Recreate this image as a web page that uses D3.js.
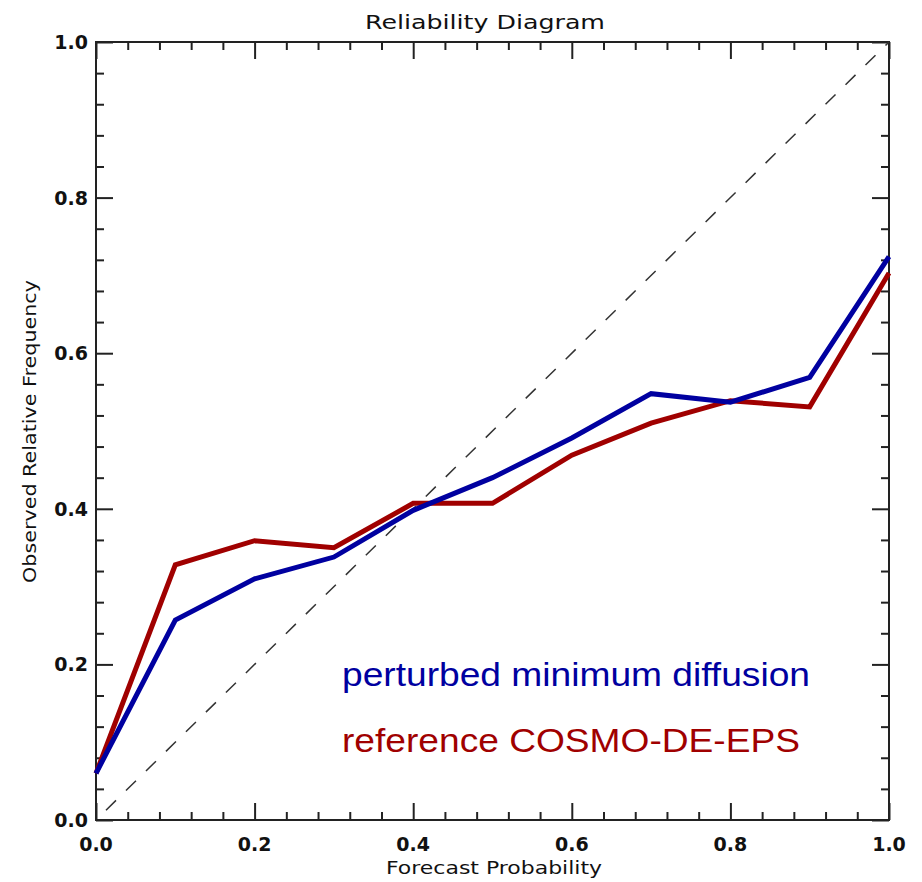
<!DOCTYPE html>
<html>
<head>
<meta charset="utf-8">
<script src="https://cdn.jsdelivr.net/npm/d3@7"></script>
<style>
  body { margin: 0; background: #fff; }
  svg { display: block; }
</style>
</head>
<body>
<script>
const forecastProb = [0.0, 0.1, 0.2, 0.3, 0.4, 0.5, 0.6, 0.7, 0.8, 0.9, 1.0];
const perturbedMinDiffusion = [0.06, 0.257, 0.31, 0.338, 0.398, 0.44, 0.491, 0.548, 0.537, 0.569, 0.724];
const referenceCosmo = [0.06, 0.328, 0.359, 0.35, 0.407, 0.407, 0.469, 0.51, 0.539, 0.531, 0.703];
const majorTicks = [0.0, 0.2, 0.4, 0.6, 0.8, 1.0];
const tickLabels = ["0.0", "0.2", "0.4", "0.6", "0.8", "1.0"];
const seriesNames = ["perturbed minimum diffusion", "reference COSMO-DE-EPS"];
const seriesColors = ["#0000a0", "#a00000"];

const W = 922, H = 882;
const plotLeft = 96, plotRight = 889, plotTop = 42, plotBottom = 820;

const svg = d3.select("body").append("svg").attr("width", W).attr("height", H);

const x = d3.scaleLinear().domain([0, 1]).range([plotLeft, plotRight]);
const y = d3.scaleLinear().domain([0, 1]).range([plotBottom, plotTop]);

const minorTicks = d3.range(0, 1.0001, 0.04).map(v => +v.toFixed(2));
const isMajor = v => majorTicks.some(m => Math.abs(m - v) < 1e-6);

const axisColor = "#222";
const tickFont = "'DejaVu Sans', sans-serif";

// frame
svg.append("rect").attr("x", plotLeft).attr("y", plotTop)
  .attr("width", plotRight - plotLeft).attr("height", plotBottom - plotTop)
  .attr("fill", "none").attr("stroke", axisColor).attr("stroke-width", 2);

function drawAxis(gen, transform) {
  const g = svg.append("g").attr("transform", transform).call(gen);
  g.select(".domain").remove();
  g.selectAll(".tick line").attr("stroke", axisColor).attr("stroke-width", 2);
  return g;
}
const majorLen = 17, minorLen = 8;
const xb = drawAxis(d3.axisTop(x).tickValues(minorTicks).tickSize(0).tickFormat(""), `translate(0,${plotBottom})`);
xb.selectAll(".tick line").attr("y2", d => isMajor(d) ? -majorLen : -minorLen);
const xt = drawAxis(d3.axisBottom(x).tickValues(minorTicks).tickSize(0).tickFormat(""), `translate(0,${plotTop})`);
xt.selectAll(".tick line").attr("y2", d => isMajor(d) ? majorLen : minorLen);
const yl = drawAxis(d3.axisRight(y).tickValues(minorTicks).tickSize(0).tickFormat(""), `translate(${plotLeft},0)`);
yl.selectAll(".tick line").attr("x2", d => isMajor(d) ? majorLen : minorLen);
const yr = drawAxis(d3.axisLeft(y).tickValues(minorTicks).tickSize(0).tickFormat(""), `translate(${plotRight},0)`);
yr.selectAll(".tick line").attr("x2", d => isMajor(d) ? -majorLen : -minorLen);

// tick labels
svg.append("g").selectAll("text").data(majorTicks).join("text")
  .attr("x", d => x(d)).attr("y", 851)
  .attr("text-anchor", "middle")
  .attr("font-family", tickFont).attr("font-weight", "bold").attr("font-size", 19)
  .attr("fill", "#111")
  .text((d, i) => tickLabels[i]);
svg.append("g").selectAll("text").data(majorTicks).join("text")
  .attr("x", 88).attr("y", d => y(d) + 7)
  .attr("text-anchor", "end")
  .attr("font-family", tickFont).attr("font-weight", "bold").attr("font-size", 19)
  .attr("fill", "#111")
  .text((d, i) => tickLabels[i]);

// diagonal
svg.append("line")
  .attr("x1", x(0)).attr("y1", y(0)).attr("x2", x(1)).attr("y2", y(1))
  .attr("stroke", "#333").attr("stroke-width", 1.5)
  .attr("stroke-dasharray", "14,14").attr("stroke-dashoffset", 14);

// series
const line = d3.line().x(d => x(d[0])).y(d => y(d[1]));
[[referenceCosmo, seriesColors[1]], [perturbedMinDiffusion, seriesColors[0]]].forEach(([vals, color]) => {
  svg.append("path")
    .datum(forecastProb.map((f, k) => [f, vals[k]]))
    .attr("d", line)
    .attr("fill", "none").attr("stroke", color)
    .attr("stroke-width", 5).attr("stroke-linejoin", "miter");
});

// title & axis labels
svg.append("text").attr("x", 365).attr("y", 29)
  .attr("font-family", tickFont).attr("font-size", 20).attr("fill", "#111")
  .attr("textLength", 240).attr("lengthAdjust", "spacingAndGlyphs")
  .text("Reliability Diagram");
svg.append("text").attr("x", 386).attr("y", 874)
  .attr("font-family", tickFont).attr("font-size", 17).attr("fill", "#111")
  .attr("textLength", 216).attr("lengthAdjust", "spacingAndGlyphs")
  .text("Forecast Probability");
svg.append("text").attr("transform", "translate(36,583) rotate(-90)")
  .attr("font-family", tickFont).attr("font-size", 17).attr("fill", "#111")
  .attr("textLength", 303).attr("lengthAdjust", "spacingAndGlyphs")
  .text("Observed Relative Frequency");

// legend texts
const legendWidths = [468, 458];
svg.append("g").selectAll("text").data(seriesNames).join("text")
  .attr("x", 342).attr("y", (d, i) => 686 + i * 66)
  .attr("font-family", "'Liberation Sans', Arial, sans-serif").attr("font-size", 33)
  .attr("fill", (d, i) => seriesColors[i])
  .attr("textLength", (d, i) => legendWidths[i]).attr("lengthAdjust", "spacingAndGlyphs")
  .text(d => d);
</script>
</body>
</html>
